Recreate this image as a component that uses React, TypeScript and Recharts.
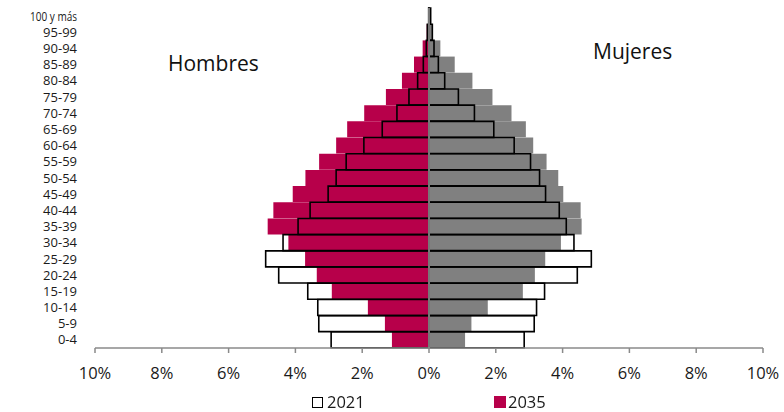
import React from "react";
import { Bar, BarChart, ReferenceLine, XAxis, YAxis } from "recharts";

// age groups, top to bottom (as drawn)
const ages = [
  "100 y más", "95-99", "90-94", "85-89", "80-84", "75-79", "70-74",
  "65-69", "60-64", "55-59", "50-54", "45-49", "40-44", "35-39",
  "30-34", "25-29", "20-24", "15-19", "10-14", "5-9", "0-4",
];

// share of total population (%)
const men2021 = [0.01, 0.05, 0.08, 0.17, 0.34, 0.6, 0.96, 1.4, 1.95, 2.48, 2.78, 3.02, 3.56, 3.92, 4.37, 4.89, 4.5, 3.63, 3.33, 3.3, 2.93];
const women2021 = [0.05, 0.1, 0.15, 0.28, 0.47, 0.88, 1.36, 1.94, 2.55, 3.04, 3.31, 3.49, 3.9, 4.11, 4.34, 4.86, 4.44, 3.46, 3.22, 3.15, 2.85];
const men2035 = [0.02, 0.07, 0.19, 0.45, 0.81, 1.29, 1.94, 2.45, 2.78, 3.29, 3.7, 4.08, 4.66, 4.83, 4.21, 3.71, 3.36, 2.91, 1.83, 1.32, 1.11];
const women2035 = [0.03, 0.1, 0.34, 0.77, 1.3, 1.9, 2.47, 2.9, 3.12, 3.52, 3.87, 4.02, 4.54, 4.57, 3.95, 3.48, 3.17, 2.81, 1.76, 1.27, 1.08];

const xTicks = [-10, -8, -6, -4, -2, 0, 2, 4, 6, 8, 10];

const CRIMSON = "#B7004A";
const GREY = "#808080";
const FONT = "'Open Sans', sans-serif";

const data = ages.map((age, i) => ({
  age,
  m21: -men2021[i],
  w21: women2021[i],
  m35: -men2035[i],
  w35: women2035[i],
}));

function AgeTick({ x, y, payload }: any) {
  const long = payload.value === "100 y más";
  return (
    <text
      x={x}
      y={y}
      dy="0.35em"
      textAnchor="end"
      fontSize={13}
      fontFamily={FONT}
      fill="#1a1a1a"
      textLength={long ? 47 : undefined}
      lengthAdjust={long ? "spacingAndGlyphs" : undefined}
    >
      {payload.value}
    </text>
  );
}

const hiddenAxes = ["f1", "f2", "p1", "p2", "o1", "o2"];

const legendStyle: React.CSSProperties = {
  position: "absolute",
  top: 392,
  height: 20,
  fontSize: 16.5,
  color: "#1a1a1a",
  lineHeight: "20px",
  display: "flex",
  alignItems: "center",
  whiteSpace: "nowrap",
};

export default function App() {
  return (
    <div style={{ position: "fixed", left: 0, top: 0, width: 784, height: 412, background: "#fff", fontFamily: FONT }}>
      <BarChart
        width={784}
        height={412}
        data={data}
        layout="vertical"
        barCategoryGap={0}
        margin={{ top: 8, right: 21, left: 0, bottom: 34 }}
      >
        <XAxis
          type="number"
          domain={[-10, 10]}
          ticks={xTicks}
          tickFormatter={(v: number) => `${Math.abs(v)}%`}
          stroke="#8a8a8a"
          strokeWidth={1.5}
          tickSize={5}
          tickMargin={14}
          height={30}
          tick={{ fill: "#1a1a1a", fontSize: 16.5, fontFamily: FONT }}
        />
        <YAxis
          type="category"
          dataKey="age"
          width={95}
          axisLine={false}
          tickLine={false}
          tickMargin={12}
          interval={0}
          tick={<AgeTick />}
        />
        {hiddenAxes.map((id) => (
          <YAxis key={id} yAxisId={id} type="category" dataKey="age" hide />
        ))}

        {/* 2021: white fill underneath */}
        <Bar yAxisId="f1" dataKey="m21" fill="#fff" isAnimationActive={false} />
        <Bar yAxisId="f2" dataKey="w21" fill="#fff" isAnimationActive={false} />
        {/* 2035 */}
        <Bar yAxisId="p1" dataKey="m35" fill={CRIMSON} isAnimationActive={false} />
        <Bar yAxisId="p2" dataKey="w35" fill={GREY} isAnimationActive={false} />
        {/* 2021 outline on top */}
        <Bar yAxisId="o1" dataKey="m21" fill="none" stroke="#000" strokeWidth={1.6} isAnimationActive={false} />
        <Bar yAxisId="o2" dataKey="w21" fill="none" stroke="#000" strokeWidth={1.6} isAnimationActive={false} />

        <ReferenceLine x={0} stroke="#777" strokeWidth={2} />
      </BarChart>

      <div style={{ position: "absolute", left: 168, top: 49, fontSize: 21, color: "#111", lineHeight: "28px" }}>Hombres</div>
      <div style={{ position: "absolute", left: 593, top: 37, fontSize: 21, color: "#111", lineHeight: "28px" }}>Mujeres</div>

      <div style={{ ...legendStyle, left: 312 }}>
        <span style={{ display: "inline-block", width: 9, height: 9, border: "1.5px solid #000", background: "#fff", marginRight: 4 }} />
        <span>2021</span>
      </div>
      <div style={{ ...legendStyle, left: 494 }}>
        <span style={{ display: "inline-block", width: 12, height: 12, background: CRIMSON, marginRight: 2 }} />
        <span>2035</span>
      </div>
    </div>
  );
}
